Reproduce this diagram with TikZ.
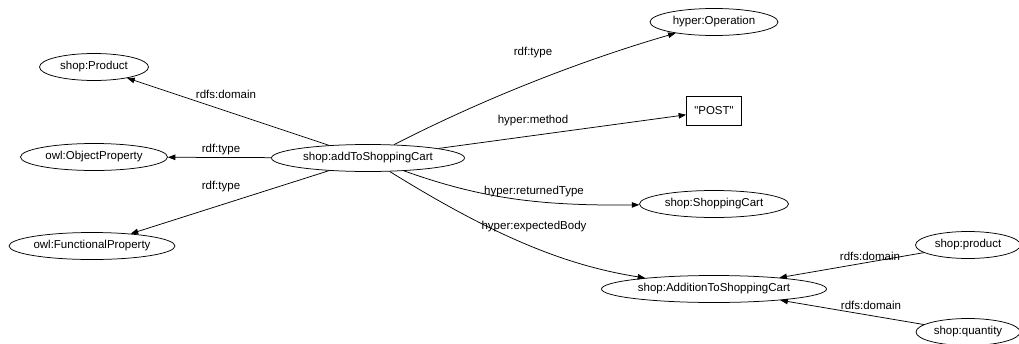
\documentclass[tikz,border=0pt]{standalone}
\usepackage{fontspec}
\newfontfamily\arial{Liberation Sans}
\usetikzlibrary{shapes.geometric,arrows.meta}
% zero-width label so the ellipse keeps its set size
\newcommand\nm[1]{\makebox[0pt]{#1}}
\begin{document}
\begin{tikzpicture}[x=1pt,y=-1pt,
  every node/.style={font=\arial\fontsize{11.5}{13}\selectfont},
  ell/.style={draw, ellipse, line width=0.75pt, minimum height=27pt, inner sep=0pt},
  lit/.style={draw, rectangle, line width=0.75pt, minimum width=55pt, minimum height=29pt, inner sep=0pt},
  lbl/.style={inner sep=1pt},
  edge/.style={draw, line width=0.75pt, -{Triangle[length=7.5pt,width=5.5pt]}}]
\useasboundingbox (0,0) rectangle (1019,343);

% resources
\node[ell, minimum width=109pt] (prod)   at (94,67)   {\nm{shop:Product}};
\node[ell, minimum width=147pt] (objp)   at (94,157)  {\nm{owl:ObjectProperty}};
\node[ell, minimum width=166pt] (funcp)  at (92,246)  {\nm{owl:FunctionalProperty}};
\node[ell, minimum width=193pt] (add)    at (368,158) {\nm{shop:addToShoppingCart}};
\node[ell, minimum width=128pt] (oper)   at (714,22)  {\nm{hyper:Operation}};
\node[lit]                      (post)   at (714,111) {"POST"};
\node[ell, minimum width=149pt] (cart)   at (714,204) {\nm{shop:ShoppingCart}};
\node[ell, minimum width=225pt] (addn)   at (714,289) {\nm{shop:AdditionToShoppingCart}};
\node[ell, minimum width=105pt] (sprod)  at (968,245) {\nm{shop:product}};
\node[ell, minimum width=104pt] (squant) at (968,332) {\nm{shop:quantity}};

% properties
\draw[edge] (add.162) -- (prod);
\draw[edge] (add) -- (objp);
\draw[edge] (add.198) -- (funcp);
\draw[edge] (add) .. controls (485,98) and (583,60) .. (oper);
\draw[edge] (add) -- (post);
\draw[edge] (add) .. controls (480,198) and (538,206) .. (cart);
\draw[edge] (add) .. controls (500,240) and (570,266) .. (addn);
\draw[edge] (sprod) -- (addn);
\draw[edge] (squant) -- (addn);

% property labels
\node[lbl] (l1) at (226,94)  {rdfs:domain};
\node[lbl] (l2) at (221,150) {rdf:type};
\node[lbl] (l3) at (221,187) {rdf:type};
\node[lbl] (l4) at (533,53)  {rdf:type};
\node[lbl] (l5) at (533,121) {hyper:method};
\node[lbl] (l6) at (534,192) {hyper:returnedType};
\node[lbl] (l7) at (534,227) {hyper:expectedBody};
\node[lbl] (l8) at (870,256) {rdfs:domain};
\node[lbl] (l9) at (871,305) {rdfs:domain};
\end{tikzpicture}
\end{document}
